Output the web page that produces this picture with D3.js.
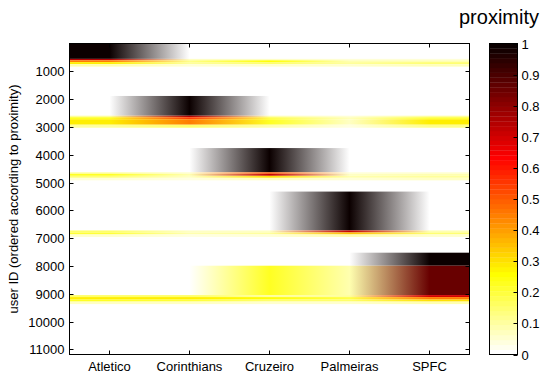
<!DOCTYPE html>
<html><head><meta charset="utf-8">
<script src="https://cdn.jsdelivr.net/npm/d3@7"></script>
<style>
html,body{margin:0;padding:0;background:#fff;}
text{font-family:"Liberation Sans",Arial,Helvetica,sans-serif;fill:#000;}
</style></head>
<body><svg id="chart" width="543" height="374"></svg>
<script>
const teams = ["Atletico","Corinthians","Cruzeiro","Palmeiras","SPFC"];
const yTicks = [1000,2000,3000,4000,5000,6000,7000,8000,9000,10000,11000];
const cbTicks = [0,0.1,0.2,0.3,0.4,0.5,0.6,0.7,0.8,0.9,1];
const nUsers = 11180;
// user-ID bands (rows) and proximity per team in each band
const bandStart = [0,553,604,669,741,1886,2596,2650,2722,2920,3759,4631,4685,4757,4829,5323,6720,6793,6865,7520,7988,9044,9116,9206,9278];
const bandEnd   = [553,604,669,741,831,2596,2650,2722,2920,3028,4631,4685,4757,4829,4919,6720,6793,6865,6955,7988,9044,9116,9206,9278,9368];
const atletico    = [1,0.75,0.45,0.28,0.08, 0,0.1,0.22,0.28,0.1, 0,0.1,0.22,0.14,0.04, 0,0.15,0.2,0.05, 0,0,0.15,0.28,0.22,0.06];
const corinthians = [0,0.06,0.12,0.1,0.04, 1,0.75,0.55,0.45,0.15, 0,0.05,0.08,0.06,0.03, 0,0.06,0.08,0.03, 0,0,0.15,0.28,0.2,0.06];
const cruzeiro    = [0,0.06,0.25,0.15,0.05, 0,0.08,0.18,0.22,0.08, 1,0.5,0.72,0.3,0.06, 0,0.06,0.1,0.04, 0,0.22,0.1,0.25,0.15,0.05];
const palmeiras   = [0,0.04,0.08,0.1,0.05, 0,0.04,0.07,0.06,0.03, 0,0.04,0.06,0.08,0.04, 1,0.72,0.35,0.08, 0,0.08,0.1,0.18,0.15,0.05];
const spfc        = [0,0.04,0.08,0.14,0.07, 0,0.1,0.2,0.28,0.12, 0,0.05,0.08,0.1,0.06, 0,0.08,0.14,0.05, 1,0.86,0.7,0.45,0.3,0.08];
const series = [atletico, corinthians, cruzeiro, palmeiras, spfc];

// reversed MATLAB hot colormap (64 levels)
function hotr(v){
  const i = 64 - Math.max(0,Math.min(1,v))*63;
  const c = x => Math.max(0,Math.min(1,x));
  const r = c(i/24), g = c((i-24)/24), b = c((i-48)/16);
  return d3.rgb(Math.round(r*255),Math.round(g*255),Math.round(b*255)).formatHex();
}

const svg = d3.select("#chart");
const L=69.5, R=469.5, T=43.5, B=354.5;
const x = d3.scaleBand().domain(teams).range([L,R]);
const xc = t => x(t) + x.bandwidth()/2;
const y = d3.scaleLinear().domain([0,nUsers]).range([T,B]);

const defs = svg.append("defs");
const g = svg.append("g");
bandStart.forEach((s,k)=>{
  const id = "grad"+k;
  const lg = defs.append("linearGradient").attr("id",id)
    .attr("gradientUnits","userSpaceOnUse")
    .attr("x1",xc(teams[0])).attr("x2",xc(teams[teams.length-1]))
    .attr("y1",0).attr("y2",0);
  const span = xc(teams[teams.length-1]) - xc(teams[0]);
  teams.forEach((t,j)=>{
    lg.append("stop").attr("offset",(xc(t)-xc(teams[0]))/span).attr("stop-color",hotr(series[j][k]));
  });
  g.append("rect").attr("x",L).attr("width",R-L)
    .attr("y",y(s)).attr("height",y(bandEnd[k])-y(s))
    .attr("fill","url(#"+id+")");
});

// frame
svg.append("rect").attr("x",L).attr("y",T).attr("width",R-L).attr("height",B-T)
  .attr("fill","none").attr("stroke","#000").attr("stroke-width",1);
const tl = 4;
yTicks.forEach(v=>{
  const yy = Math.round(y(v))+0.5;
  svg.append("line").attr("x1",L).attr("x2",L+tl).attr("y1",yy).attr("y2",yy).attr("stroke","#000");
  svg.append("line").attr("x1",R).attr("x2",R-tl).attr("y1",yy).attr("y2",yy).attr("stroke","#000");
  svg.append("text").attr("x",L-5).attr("y",yy).attr("dy","0.35em").attr("text-anchor","end")
    .attr("font-size","13px").text(v);
});
teams.forEach(t=>{
  const xx = Math.round(xc(t))-0.5;
  svg.append("line").attr("x1",xx).attr("x2",xx).attr("y1",T).attr("y2",T+tl).attr("stroke","#000");
  svg.append("line").attr("x1",xx).attr("x2",xx).attr("y1",B).attr("y2",B-tl).attr("stroke","#000");
  svg.append("text").attr("x",xx).attr("y",371).attr("text-anchor","middle")
    .attr("font-size","13px").text(t);
});
svg.append("text").attr("transform","translate(18,199) rotate(-90)").attr("text-anchor","middle")
  .attr("font-size","13px").text("user ID (ordered according to proximity)");

// colorbar
const cbL=489.5, cbR=517.5;
const cy = d3.scaleLinear().domain([0,1]).range([B,T]);
const levels = d3.range(64);
svg.append("g").selectAll("rect").data(levels).join("rect")
  .attr("x",cbL).attr("width",cbR-cbL)
  .attr("y",d=>cy((d+1)/64)).attr("height",d=>cy(d/64)-cy((d+1)/64)+0.3)
  .attr("fill",d=>hotr(d/63));
svg.append("rect").attr("x",cbL).attr("y",T).attr("width",cbR-cbL).attr("height",B-T)
  .attr("fill","none").attr("stroke","#000");
cbTicks.forEach(v=>{
  const yy = Math.round(cy(v))+0.5;
  svg.append("line").attr("x1",cbR).attr("x2",cbR-tl).attr("y1",yy).attr("y2",yy).attr("stroke","#000");
  svg.append("text").attr("x",cbR+4).attr("y",yy).attr("dy","0.35em").attr("font-size","13px").text(v);
});
svg.append("text").attr("x",539).attr("y",24).attr("text-anchor","end").attr("font-size","20px").text("proximity");
</script></body></html>
